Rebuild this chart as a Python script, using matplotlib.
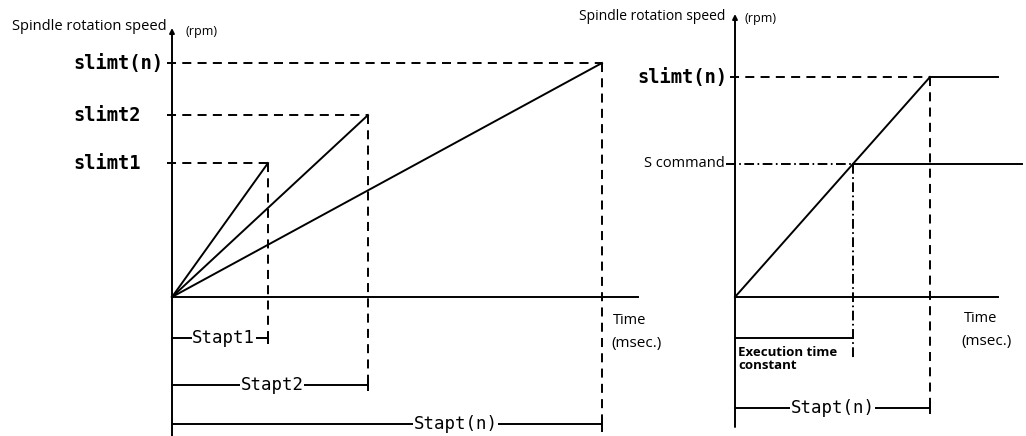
import matplotlib
matplotlib.use("Agg")
import matplotlib.pyplot as plt

# ---------------- data ----------------
left_labels = ["slimt1", "slimt2", "slimt(n)"]
left_speed = [2290, 3110, 4000]          # rpm (relative)
left_stapt = [96, 196, 430]              # msec
left_stapt_labels = ["Stapt1", "Stapt2", "Stapt(n)"]

right_slimt_label = "slimt(n)"
right_slimt = 4000                       # rpm
right_scmd = 2420                        # rpm (S command)
right_stapt = 195                        # msec
right_stapt_label = "Stapt(n)"

# ---------------- layout ----------------
W, H = 1026, 436
plt.rcParams["lines.scale_dashes"] = False
LW = 1.4
DASH = (0, (6.5, 4.5))
DASHDOT = (0, (7, 2.5, 1.2, 2.5))
MONO = "DejaVu Sans Mono"
SANS = "Open Sans"

fig = plt.figure(figsize=(W / 100, H / 100), dpi=100)


def panel(x0, y0, rpm_per_px):
    ax = fig.add_axes([0, 0, 1, 1])
    ax.set_xlim(-x0, W - x0)
    ax.set_ylim(-(H - y0) * rpm_per_px, y0 * rpm_per_px)
    ax.axis("off")
    ax.patch.set_alpha(0)
    return ax, (lambda ypx: (y0 - ypx) * rpm_per_px), (lambda xpx: xpx - x0)


# ================= LEFT PANEL =================
axL, yL, xL = panel(172, 297, 4000 / 234)

# axes
axL.annotate("", xy=(0, yL(28)), xytext=(0, yL(436)),
             arrowprops=dict(arrowstyle="-|>", lw=LW, color="k", mutation_scale=7,
                             shrinkA=0, shrinkB=0))
axL.plot([0, 466], [0, 0], color="k", lw=LW)

rows_px = [338, 385, 424]
drop_px = [343, 390, 432]
frac = [0.54, 0.51, 0.66]
for lab, s, t, slab, r, d, f in zip(left_labels, left_speed, left_stapt,
                                      left_stapt_labels, rows_px, drop_px, frac):
    axL.plot([0, t], [0, s], color="k", lw=LW)
    axL.plot([-5, t], [s, s], color="k", lw=LW, ls=DASH)
    axL.plot([t, t], [s, yL(d)], color="k", lw=LW, ls=DASH)
    axL.plot([0, t], [yL(r), yL(r)], color="k", lw=LW)
    axL.plot([t], [yL(r)], marker="|", ms=9, mew=LW, color="k")
    axL.text(t * f, yL(r), slab, ha="center", va="center", fontsize=12.5,
             family=MONO, bbox=dict(fc="white", ec="none", pad=0.5))
    axL.text(xL(73), s, lab, ha="left", va="center", fontsize=13.5,
             family=MONO, fontweight="bold")

axL.text(-5, yL(27), "Spindle rotation speed", ha="right", va="center",
         fontsize=10.5, family=SANS)
axL.text(13, yL(31), "(rpm)", ha="left", va="center", fontsize=9, family=SANS)
axL.text(441, yL(320), "Time", ha="left", va="center", fontsize=10.5, family=SANS)
axL.text(439, yL(343), "(msec.)", ha="left", va="center", fontsize=11, family=SANS)

# ================= RIGHT PANEL =================
axR, yR, xR = panel(735, 297, 4000 / 220)
exec_t = right_stapt * right_scmd / right_slimt

axR.annotate("", xy=(0, yR(14)), xytext=(0, yR(427)),
             arrowprops=dict(arrowstyle="-|>", lw=LW, color="k", mutation_scale=7,
                             shrinkA=0, shrinkB=0))
axR.plot([0, 263], [0, 0], color="k", lw=LW)

# ramp
axR.plot([0, right_stapt], [0, right_slimt], color="k", lw=LW)
# slimt(n) level
axR.plot([-5, right_stapt], [right_slimt, right_slimt], color="k", lw=LW, ls=DASH)
axR.plot([right_stapt, 263], [right_slimt, right_slimt], color="k", lw=LW)
axR.plot([right_stapt, right_stapt], [right_slimt, yR(413)], color="k", lw=LW, ls=DASH)
# S command level
axR.plot([-9, exec_t], [right_scmd, right_scmd], color="k", lw=LW, ls=DASHDOT)
axR.plot([exec_t, 287], [right_scmd, right_scmd], color="k", lw=LW)
axR.plot([exec_t, exec_t], [right_scmd, yR(358)], color="k", lw=LW, ls=DASHDOT)
# execution time bar
axR.plot([0, exec_t], [yR(338), yR(338)], color="k", lw=LW)
axR.text(3, yR(352), "Execution time", ha="left", va="center", fontsize=9.5,
         family=SANS, fontweight="bold")
axR.text(3, yR(365), "constant", ha="left", va="center", fontsize=9.5,
         family=SANS, fontweight="bold")
# Stapt(n) bar
axR.plot([0, right_stapt], [yR(408), yR(408)], color="k", lw=LW)
axR.plot([right_stapt], [yR(408)], marker="|", ms=9, mew=LW, color="k")
axR.text(right_stapt * 0.5, yR(408), right_stapt_label, ha="center", va="center",
         fontsize=12.5, family=MONO, bbox=dict(fc="white", ec="none", pad=0.5))

axR.text(-8, right_slimt, right_slimt_label, ha="right", va="center", fontsize=13.5,
         family=MONO, fontweight="bold")
axR.text(-10, right_scmd, "S command", ha="right", va="center", fontsize=10.5,
         family=SANS)
axR.text(-10, yR(17), "Spindle rotation speed", ha="right", va="center",
         fontsize=10, family=SANS)
axR.text(10, yR(19), "(rpm)", ha="left", va="center", fontsize=9, family=SANS)
axR.text(229, yR(319), "Time", ha="left", va="center", fontsize=10.5, family=SANS)
axR.text(226, yR(342), "(msec.)", ha="left", va="center", fontsize=11, family=SANS)

fig.savefig("out.png", dpi=100, facecolor="white")
